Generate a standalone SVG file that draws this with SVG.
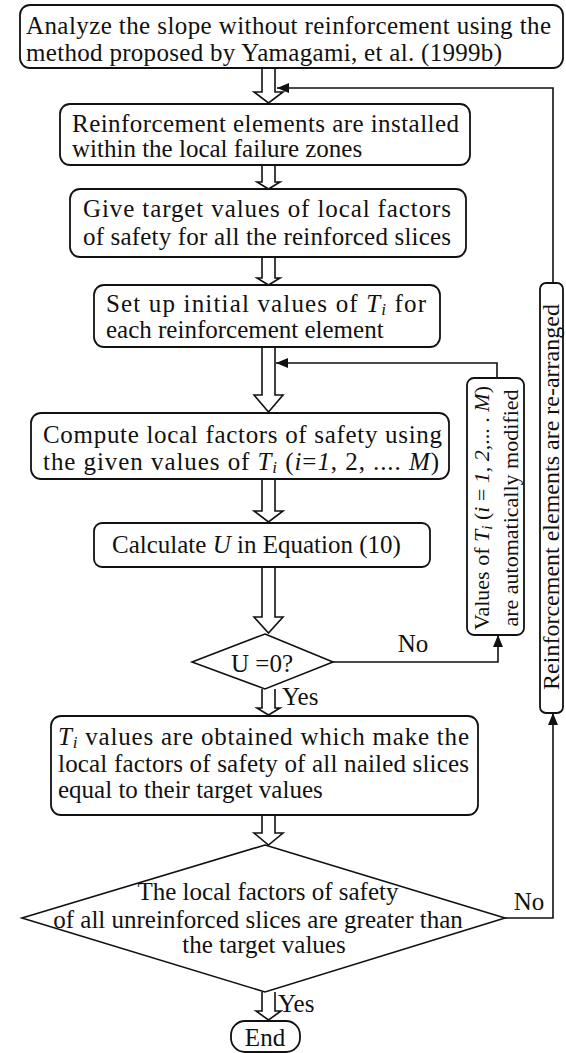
<svg xmlns="http://www.w3.org/2000/svg" width="566" height="1053" viewBox="0 0 566 1053">
<style>
.box{fill:#fff;stroke:#111;stroke-width:1.8}
.dia{fill:#fff;stroke:#111;stroke-width:1.6}
.ha{fill:#fff;stroke:#111;stroke-width:1.6;stroke-linejoin:miter}
.ln{fill:none;stroke:#111;stroke-width:1.6}
.t{font-family:"Liberation Serif","Times New Roman",serif;font-size:25px;fill:#111}
.i{font-style:italic}
.s{font-size:17px;font-style:italic}
</style>
<defs>
<marker id="ah" viewBox="0 0 12 10" refX="12" refY="5" markerWidth="12" markerHeight="10" markerUnits="userSpaceOnUse" orient="auto">
<path d="M0,0 L12,5 L0,10 Z" fill="#111"/>
</marker>
</defs>
<rect width="566" height="1053" fill="#fff"/>

<g id="connectors">
<path class="ha" d="M262,68 V92 H254 L268.5,103 L283,92 H275 V68"/>
<path class="ha" d="M262,165 V182 H257 L268.5,189 L280,182 H275 V165"/>
<path class="ha" d="M262,257 V278 H257 L268.5,285 L280,278 H275 V257"/>
<path class="ha" d="M262,347 V395 H254 L268.5,412 L283,395 H275 V347"/>
<path class="ha" d="M262,479 V511 H254 L268.5,522 L283,511 H275 V479"/>
<path class="ha" d="M262,567 V617 H254 L268.5,633 L283,617 H275 V567"/>
<path class="ha" d="M262,689 V708 H257 L268.5,715 L280,708 H275 V689"/>
<path class="ha" d="M262,815 V833 H254 L268.5,845 L283,833 H275 V815"/>
<path class="ha" d="M262,992 V1011 H256 L268.5,1020 L281,1011 H275 V992"/>
<path class="ln" d="M553,283 V88 H277" marker-end="url(#ah)"/>
<path class="ln" d="M497,378 V363 H276" marker-end="url(#ah)"/>
<path class="ln" d="M333,662 H498 V635" marker-end="url(#ah)"/>
<path class="ln" d="M505,918 H553 V713" marker-end="url(#ah)"/>
<text class="t" x="413" y="652" text-anchor="middle">No</text>
<text class="t" x="529" y="910" text-anchor="middle">No</text>
<text class="t" x="282" y="705">Yes</text>
<text class="t" x="278" y="1012">Yes</text>
</g>

<g id="n1">
<rect class="box" x="20" y="5" width="543" height="63" rx="10"/>
<text class="t" x="26" y="34" textLength="525" lengthAdjust="spacing">Analyze the slope without reinforcement using the</text>
<text class="t" x="26" y="61" textLength="476" lengthAdjust="spacing">method proposed by Yamagami, et al. (1999b)</text>
</g>

<g id="n2">
<rect class="box" x="60" y="104" width="410" height="61" rx="10"/>
<text class="t" x="72" y="132" textLength="387" lengthAdjust="spacing">Reinforcement elements are installed</text>
<text class="t" x="72" y="157">within the local failure zones</text>
</g>

<g id="n3">
<rect class="box" x="70" y="189" width="396" height="68" rx="10"/>
<text class="t" x="83" y="217" textLength="368" lengthAdjust="spacing">Give target values of local factors</text>
<text class="t" x="83" y="245" textLength="368" lengthAdjust="spacing">of safety for all the reinforced slices</text>
</g>

<g id="n4">
<rect class="box" x="94" y="285" width="346" height="62" rx="10"/>
<text class="t" x="106" y="312" textLength="320" lengthAdjust="spacing">Set up initial values of <tspan class="i">T</tspan><tspan class="s" dy="3">i</tspan><tspan dy="-3"> for</tspan></text>
<text class="t" x="106" y="338">each reinforcement element</text>
</g>

<g id="n5">
<rect class="box" x="31" y="413" width="418" height="66" rx="10"/>
<text class="t" x="43" y="443" textLength="399" lengthAdjust="spacing">Compute local factors of safety using</text>
<text class="t" x="43" y="470" textLength="396" lengthAdjust="spacing">the given values of <tspan class="i">T</tspan><tspan class="s" dy="3">i</tspan><tspan dy="-3"> (</tspan><tspan class="i">i</tspan>=<tspan class="i">1</tspan>, 2, .... <tspan class="i">M</tspan>)</text>
</g>

<g id="n6">
<rect class="box" x="94" y="523" width="336" height="44" rx="8"/>
<text class="t" x="112" y="553">Calculate <tspan class="i">U</tspan> in Equation (10)</text>
</g>

<g id="d1">
<polygon class="dia" points="265,634 333,662 265,689 192,662"/>
<text class="t" x="262" y="672" text-anchor="middle">U =0?</text>
</g>

<g id="n7">
<rect class="box" x="51" y="716" width="427" height="99" rx="10"/>
<text class="t" x="58" y="745" textLength="411" lengthAdjust="spacing"><tspan class="i">T</tspan><tspan class="s" dy="3">i</tspan><tspan dy="-3"> values are obtained which make the</tspan></text>
<text class="t" x="58" y="772" textLength="411" lengthAdjust="spacing">local factors of safety of all nailed slices</text>
<text class="t" x="58" y="798">equal to their target values</text>
</g>

<g id="d2">
<polygon class="dia" points="265,845 505,918 265,992 22,918"/>
<text class="t" x="268" y="900" text-anchor="middle">The local factors of safety</text>
<text class="t" x="258" y="928" text-anchor="middle">of all unreinforced slices are greater than</text>
<text class="t" x="264" y="953" text-anchor="middle">the target values</text>
</g>

<g id="n8">
<rect class="box" x="231" y="1021" width="69" height="31" rx="14"/>
<text class="t" x="265" y="1046" text-anchor="middle">End</text>
</g>

<g id="n9">
<rect class="box" x="467" y="378" width="57" height="257" rx="7"/>
<text class="t" style="font-size:22px" transform="translate(489,508) rotate(-90)" text-anchor="middle">Values of <tspan class="i">T</tspan><tspan class="s" style="font-size:15px" dy="3">i</tspan><tspan dy="-3"> (</tspan><tspan class="i">i</tspan> = <tspan class="i">1</tspan>, <tspan class="i">2</tspan>,... . <tspan class="i">M</tspan>)</text>
<text class="t" style="font-size:22px" transform="translate(518,508) rotate(-90)" text-anchor="middle">are automatically modified</text>
</g>

<g id="n10">
<rect class="box" x="540" y="283" width="23" height="430" rx="6"/>
<text class="t" style="font-size:24px" transform="translate(559,497) rotate(-90)" text-anchor="middle">Reinforcement elements are re-arranged</text>
</g>
</svg>
